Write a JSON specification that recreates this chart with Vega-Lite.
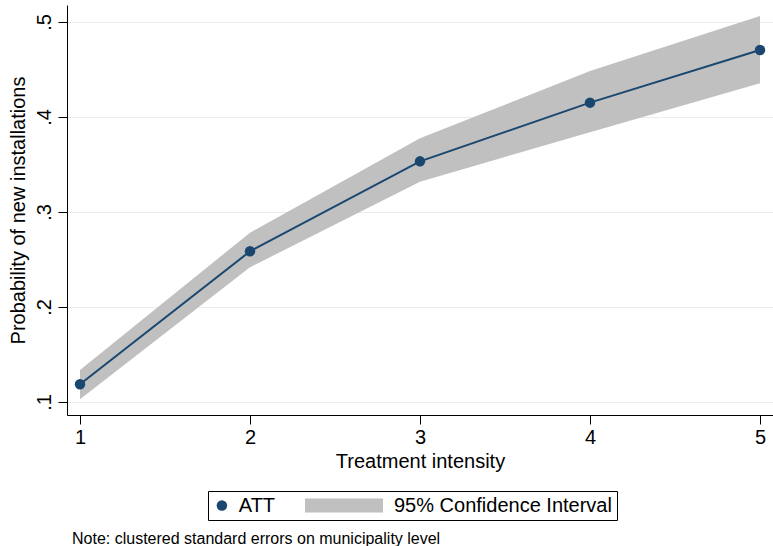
{
  "$schema": "https://vega.github.io/schema/vega-lite/v6.json",
  "width": 706,
  "height": 410,
  "autosize": {"type": "none"},
  "padding": {"left": 67, "top": 5, "right": 0, "bottom": 131},
  "background": "white",
  "config": {
    "view": {"stroke": null},
    "font": "Liberation Sans",
    "axis": {
      "domainColor": "black",
      "domainWidth": 1,
      "tickColor": "black",
      "tickWidth": 1,
      "labelColor": "black",
      "titleColor": "black",
      "labelFont": "Liberation Sans",
      "titleFont": "Liberation Sans",
      "labelFontSize": 20,
      "titleFontSize": 20,
      "titleFontWeight": "normal",
      "gridColor": "#e6eef2",
      "gridWidth": 1,
      "labelFlush": false,
      "labelOverlap": false
    },
    "legend": {
      "labelFont": "Liberation Sans",
      "labelFontSize": 20,
      "labelColor": "black",
      "labelLimit": 0
    }
  },
  "title": {
    "text": "Note: clustered standard errors on municipality level",
    "orient": "bottom",
    "anchor": "start",
    "frame": "group",
    "dx": 5,
    "offset": 10,
    "font": "Liberation Sans",
    "fontSize": 16,
    "fontWeight": "normal",
    "color": "black"
  },
  "data": {
    "values": [
      {"intensity": 1, "att": 0.1186, "lo": 0.1028, "hi": 0.1337},
      {"intensity": 2, "att": 0.2586, "lo": 0.2418, "hi": 0.2782},
      {"intensity": 3, "att": 0.3533, "lo": 0.3319, "hi": 0.3776},
      {"intensity": 4, "att": 0.4151, "lo": 0.3839, "hi": 0.4484},
      {"intensity": 5, "att": 0.4705, "lo": 0.4355, "hi": 0.5063}
    ]
  },
  "encoding": {
    "x": {
      "field": "intensity",
      "type": "quantitative",
      "scale": {"domain": [0.9235, 5.0765], "nice": false, "zero": false},
      "axis": {
        "title": "Treatment intensity",
        "values": [1, 2, 3, 4, 5],
        "format": "d",
        "grid": false,
        "tickSize": 9,
        "labelPadding": 3,
        "titlePadding": 4
      }
    }
  },
  "layer": [
    {
      "mark": {"type": "area", "opacity": 1},
      "encoding": {
        "y": {
          "field": "lo",
          "type": "quantitative",
          "scale": {"domain": [0.0863, 0.5179], "nice": false, "zero": false},
          "axis": {
            "title": "Probability of new installations",
            "values": [0.1, 0.2, 0.3, 0.4, 0.5],
            "labelExpr": "substring(format(datum.value, '.1f'), 1)",
            "labelAngle": -90,
            "labelAlign": "center",
            "labelBaseline": "alphabetic",
            "tickSize": 9,
            "labelPadding": 8,
            "titlePadding": 6,
            "grid": true
          }
        },
        "y2": {"field": "hi"},
        "fill": {
          "datum": "95% Confidence Interval",
          "type": "nominal",
          "scale": {"domain": ["95% Confidence Interval"], "range": ["#c0c0c0"]},
          "legend": {
            "title": null,
            "orient": "none",
            "legendX": 141,
            "legendY": 486,
            "direction": "horizontal",
            "padding": 4.5,
            "strokeColor": "black",
            "symbolType": "M-1,-0.18L1,-0.18L1,0.18L-1,0.18Z",
            "symbolSize": 6084,
            "symbolStrokeWidth": 0,
            "symbolOpacity": 1,
            "symbolOffset": 92.5,
            "labelOffset": 11,
            "clipHeight": 20,
            "labelLimit": 0
          }
        }
      }
    },
    {
      "mark": {"type": "line", "color": "#1a476f", "strokeWidth": 2},
      "encoding": {
        "y": {"field": "att", "type": "quantitative"}
      }
    },
    {
      "mark": {"type": "point", "filled": true, "opacity": 1, "size": 110},
      "encoding": {
        "y": {"field": "att", "type": "quantitative"},
        "color": {
          "datum": "ATT",
          "type": "nominal",
          "scale": {"domain": ["ATT"], "range": ["#1a476f"]},
          "legend": {
            "title": null,
            "orient": "none",
            "legendX": 141,
            "legendY": 486,
            "direction": "horizontal",
            "padding": 4.5,
            "symbolType": "circle",
            "symbolSize": 110,
            "symbolStrokeWidth": 0,
            "symbolOpacity": 1,
            "symbolOffset": -0.6,
            "labelOffset": 6.9,
            "clipHeight": 20,
            "labelLimit": 0
          }
        }
      }
    }
  ]
}
